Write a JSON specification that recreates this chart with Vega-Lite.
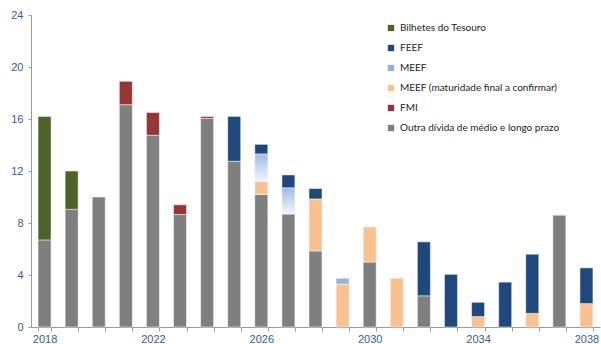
{
  "$schema": "https://vega.github.io/schema/vega-lite/v6.json",
  "width": 569,
  "height": 312,
  "autosize": {"type": "none"},
  "padding": {"left": 31, "top": 15, "right": 1, "bottom": 17},
  "background": "white",
  "config": {
    "view": {"stroke": null},
    "font": "Liberation Sans"
  },
  "title": {
    "text": "(em milhares de milhões de euros)",
    "fontSize": 18,
    "fontWeight": "bold",
    "color": "#000000",
    "anchor": "middle",
    "baseline": "alphabetic",
    "offset": 11,
    "dx": -11
  },
  "data": {
    "values": [
      {"year": 2018, "series": "Outra dívida de médio e longo prazo", "value": 6.7},
      {"year": 2018, "series": "Bilhetes do Tesouro", "value": 9.5},
      {"year": 2019, "series": "Outra dívida de médio e longo prazo", "value": 9.05},
      {"year": 2019, "series": "Bilhetes do Tesouro", "value": 2.95},
      {"year": 2020, "series": "Outra dívida de médio e longo prazo", "value": 10.0},
      {"year": 2021, "series": "Outra dívida de médio e longo prazo", "value": 17.1},
      {"year": 2021, "series": "FMI", "value": 1.8},
      {"year": 2022, "series": "Outra dívida de médio e longo prazo", "value": 14.75},
      {"year": 2022, "series": "FMI", "value": 1.75},
      {"year": 2023, "series": "Outra dívida de médio e longo prazo", "value": 8.65},
      {"year": 2023, "series": "FMI", "value": 0.75},
      {"year": 2024, "series": "Outra dívida de médio e longo prazo", "value": 16.05},
      {"year": 2024, "series": "FMI", "value": 0.15},
      {"year": 2025, "series": "Outra dívida de médio e longo prazo", "value": 12.75},
      {"year": 2025, "series": "FEEF", "value": 3.45},
      {"year": 2026, "series": "Outra dívida de médio e longo prazo", "value": 10.2},
      {"year": 2026, "series": "MEEF (maturidade final a confirmar)", "value": 1.0},
      {"year": 2026, "series": "MEEF", "value": 2.1},
      {"year": 2026, "series": "FEEF", "value": 0.75},
      {"year": 2027, "series": "Outra dívida de médio e longo prazo", "value": 8.7},
      {"year": 2027, "series": "MEEF", "value": 2.0},
      {"year": 2027, "series": "FEEF", "value": 1.0},
      {"year": 2028, "series": "Outra dívida de médio e longo prazo", "value": 5.85},
      {"year": 2028, "series": "MEEF (maturidade final a confirmar)", "value": 4.0},
      {"year": 2028, "series": "FEEF", "value": 0.8},
      {"year": 2029, "series": "MEEF (maturidade final a confirmar)", "value": 3.3},
      {"year": 2029, "series": "MEEF", "value": 0.45},
      {"year": 2030, "series": "Outra dívida de médio e longo prazo", "value": 5.0},
      {"year": 2030, "series": "MEEF (maturidade final a confirmar)", "value": 2.7},
      {"year": 2031, "series": "MEEF (maturidade final a confirmar)", "value": 3.75},
      {"year": 2032, "series": "Outra dívida de médio e longo prazo", "value": 2.4},
      {"year": 2032, "series": "FEEF", "value": 4.15},
      {"year": 2033, "series": "FEEF", "value": 4.05},
      {"year": 2034, "series": "MEEF (maturidade final a confirmar)", "value": 0.8},
      {"year": 2034, "series": "FEEF", "value": 1.1},
      {"year": 2035, "series": "FEEF", "value": 3.45},
      {"year": 2036, "series": "MEEF (maturidade final a confirmar)", "value": 1.05},
      {"year": 2036, "series": "FEEF", "value": 4.55},
      {"year": 2037, "series": "Outra dívida de médio e longo prazo", "value": 8.6},
      {"year": 2038, "series": "MEEF (maturidade final a confirmar)", "value": 1.8},
      {"year": 2038, "series": "FEEF", "value": 2.75}
    ]
  },
  "transform": [
    {
      "calculate": "indexof(['Outra dívida de médio e longo prazo', 'Bilhetes do Tesouro', 'FMI', 'MEEF (maturidade final a confirmar)', 'MEEF', 'FEEF'], datum.series)",
      "as": "stackOrder"
    },
    {
      "stack": "value",
      "groupby": ["year"],
      "sort": [{"field": "stackOrder", "order": "ascending"}],
      "as": ["v0", "v1"]
    }
  ],
  "encoding": {
    "x": {
      "field": "year",
      "type": "ordinal",
      "title": null,
      "scale": {"paddingInner": 0.52, "paddingOuter": 0.26},
      "axis": {
        "labelExpr": "datum.value % 4 == 2 ? datum.label : ''",
        "labelAngle": 0,
        "labelColor": "#3A5A8E",
        "labelFontSize": 11,
        "labelPadding": 2,
        "domainColor": "#9a9a9a",
        "tickColor": "#9a9a9a",
        "tickSize": 4,
        "tickBand": "extent",
        "grid": false
      }
    },
    "y": {
      "field": "v1",
      "type": "quantitative",
      "title": null,
      "scale": {"domain": [0, 24], "nice": false, "zero": true},
      "axis": {
        "values": [0, 4, 8, 12, 16, 20, 24],
        "labelColor": "#3A5A8E",
        "labelFontSize": 11,
        "labelPadding": 5,
        "domainColor": "#9a9a9a",
        "tickColor": "#9a9a9a",
        "tickSize": 3,
        "grid": false
      }
    },
    "y2": {"field": "v0"}
  },
  "layer": [
    {
      "mark": {"type": "bar", "stroke": "#ffffff", "strokeWidth": 0.7, "strokeOpacity": 0.7},
      "encoding": {
        "color": {
          "field": "series",
          "type": "nominal",
          "title": null,
          "scale": {
            "domain": ["Bilhetes do Tesouro", "FEEF", "MEEF", "MEEF (maturidade final a confirmar)", "FMI", "Outra dívida de médio e longo prazo"],
            "range": ["#4F6228", "#1F497D", "#95B3D7", "#FAC090", "#953735", "#7F7F7F"]
          },
          "legend": {
            "orient": "none",
            "legendX": 355,
            "legendY": 8,
            "symbolType": "square",
            "symbolSize": 40,
            "symbolStrokeWidth": 0,
            "labelFont": "Lato",
            "labelFontSize": 10,
            "labelColor": "#222222",
            "labelOffset": 4,
            "rowPadding": 10,
            "labelLimit": 250
          }
        }
      }
    },
    {
      "transform": [{"filter": "datum.series == 'MEEF' && datum.year <= 2027"}],
      "mark": {
        "type": "bar",
        "stroke": "#ffffff",
        "strokeWidth": 0.7,
        "strokeOpacity": 0.7,
        "fill": {
          "gradient": "linear",
          "x1": 0, "y1": 0, "x2": 0, "y2": 1,
          "stops": [
            {"offset": 0, "color": "#9DBBE2"},
            {"offset": 1, "color": "#F3F6FC"}
          ]
        }
      }
    }
  ]
}
